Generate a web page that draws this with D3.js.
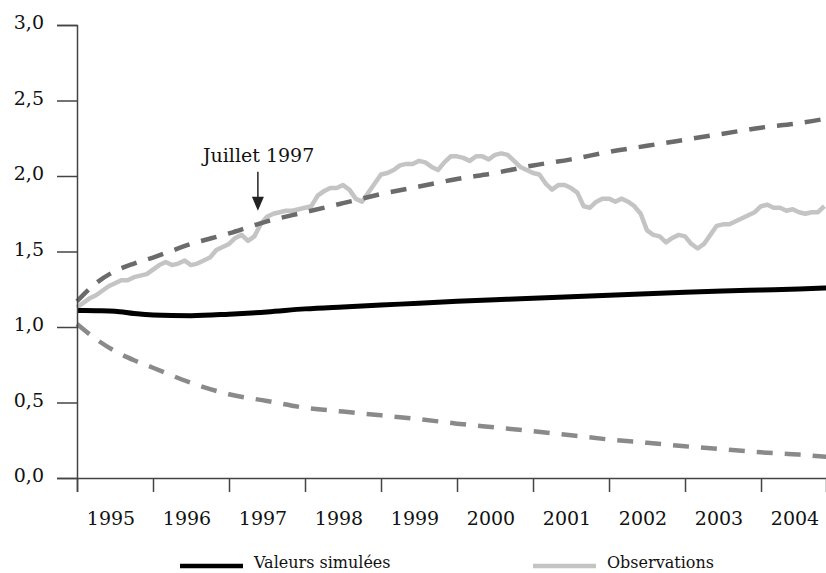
<!DOCTYPE html>
<html>
<head>
<meta charset="utf-8">
<script src="https://cdn.jsdelivr.net/npm/d3@7"></script>
<style>
  body { margin: 0; background: #fff; }
  svg text { fill: #111; }
</style>
</head>
<body>
<div id="chart"></div>
<script>
// tick labels
var years = [1995, 1996, 1997, 1998, 1999, 2000, 2001, 2002, 2003, 2004];
var yTicks = [0, 0.5, 1, 1.5, 2, 2.5, 3];

// observations, monthly from january 1995
var obsStart = 1995;
var observations = [
  1.13, 1.16, 1.19, 1.21, 1.24, 1.27, 1.29, 1.31, 1.31, 1.33, 1.34, 1.35,
  1.38, 1.41, 1.43, 1.41, 1.42, 1.44, 1.41, 1.42, 1.44, 1.46, 1.51, 1.53,
  1.55, 1.59, 1.61, 1.57, 1.60, 1.68, 1.73, 1.75, 1.76, 1.77, 1.77, 1.78,
  1.79, 1.80, 1.87, 1.90, 1.92, 1.92, 1.94, 1.91, 1.85, 1.83, 1.89, 1.95,
  2.01, 2.02, 2.04, 2.07, 2.08, 2.08, 2.10, 2.09, 2.06, 2.04, 2.09, 2.13,
  2.13, 2.12, 2.10, 2.13, 2.13, 2.11, 2.14, 2.15, 2.14, 2.10, 2.06, 2.04,
  2.02, 2.01, 1.95, 1.91, 1.94, 1.94, 1.92, 1.89, 1.80, 1.79, 1.83, 1.85,
  1.85, 1.83, 1.85, 1.83, 1.80, 1.75, 1.64, 1.61, 1.60, 1.56, 1.59, 1.61,
  1.60, 1.55, 1.52, 1.55, 1.61, 1.67, 1.68, 1.68, 1.70, 1.72, 1.74, 1.76,
  1.80, 1.81, 1.79, 1.79, 1.77, 1.78, 1.76, 1.75, 1.76, 1.76, 1.80
];

// simulated path and confidence band
var bandDates = [1995, 1995.25, 1995.5, 1995.75, 1996, 1996.5, 1997, 1997.5, 1998, 1998.5,
  1999, 1999.5, 2000, 2000.5, 2001, 2001.5, 2002, 2002.5, 2003, 2003.5, 2004, 2004.5, 2004.86];
var upperBand = [1.17, 1.29, 1.37, 1.42, 1.46, 1.55, 1.62, 1.70, 1.76, 1.82,
  1.88, 1.93, 1.98, 2.02, 2.07, 2.11, 2.16, 2.20, 2.24, 2.28, 2.32, 2.35, 2.38];
var lowerBand = [1.02, 0.92, 0.84, 0.78, 0.73, 0.63, 0.555, 0.51, 0.465, 0.44,
  0.415, 0.39, 0.36, 0.335, 0.31, 0.283, 0.255, 0.233, 0.21, 0.19, 0.17, 0.155, 0.14];
var simulated = [1.11, 1.108, 1.105, 1.09, 1.08, 1.075, 1.085, 1.10, 1.12, 1.133,
  1.145, 1.158, 1.17, 1.18, 1.19, 1.20, 1.21, 1.22, 1.23, 1.238, 1.245, 1.252, 1.258];

var annotation = { label: "Juillet 1997", date: 1997.38, value: 1.77 };

var serif = "'DejaVu Serif', 'Liberation Serif', serif";

var svgWidth = 826;
var svgHeight = 573;
var margin = { top: 25, right: 0, bottom: 95, left: 77 };

var svg = d3.select("#chart")
  .append("svg")
  .attr("width", svgWidth)
  .attr("height", svgHeight);

var x = d3.scaleLinear()
  .domain([1995, 2004.855])
  .range([margin.left, svgWidth - margin.right]);

var y = d3.scaleLinear()
  .domain([0, 3])
  .range([svgHeight - margin.bottom, margin.top]);

var obsData = observations.map(function(v, i) {
  return { t: obsStart + i / 12, v: v };
});
function bandSeries(vals) {
  return bandDates.map(function(t, i) { return { t: t, v: vals[i] }; });
}

var lineStraight = d3.line()
  .x(function(d) { return x(d.t); })
  .y(function(d) { return y(d.v); });
var lineSmooth = d3.line()
  .curve(d3.curveMonotoneX)
  .x(function(d) { return x(d.t); })
  .y(function(d) { return y(d.v); });

// series
svg.append("path")
  .datum(obsData)
  .attr("d", lineStraight)
  .attr("fill", "none")
  .attr("stroke", "#c4c4c4")
  .attr("stroke-width", 4.5)
  .attr("stroke-linejoin", "round");

svg.append("path")
  .datum(bandSeries(upperBand))
  .attr("d", lineSmooth)
  .attr("fill", "none")
  .attr("stroke", "#6b6b6b")
  .attr("stroke-width", 4.5)
  .attr("stroke-dasharray", "16,12");

svg.append("path")
  .datum(bandSeries(lowerBand))
  .attr("d", lineSmooth)
  .attr("fill", "none")
  .attr("stroke", "#8a8a8a")
  .attr("stroke-width", 4.5)
  .attr("stroke-dasharray", "16,12");

svg.append("path")
  .datum(bandSeries(simulated))
  .attr("d", lineSmooth)
  .attr("fill", "none")
  .attr("stroke", "#000")
  .attr("stroke-width", 5);

// y axis
var yAxis = svg.append("g")
  .attr("transform", "translate(" + margin.left + ",0)")
  .call(d3.axisLeft(y).tickValues(yTicks).tickSize(20).tickPadding(13)
    .tickFormat(function(d) { return d3.format(".1f")(d).replace(".", ","); }));
yAxis.attr("font-family", serif);
yAxis.select(".domain").attr("stroke", "#444").attr("stroke-width", 1.5);
yAxis.selectAll(".tick line").attr("stroke", "#444").attr("stroke-width", 1.5);
yAxis.selectAll(".tick text")
  .attr("font-size", 19)
  .attr("dy", "0.2em")
  .attr("fill", "#111");

// x axis, ticks at year boundaries, labels centred in each year
var xAxis = svg.append("g")
  .attr("transform", "translate(0," + y(0) + ")")
  .call(d3.axisBottom(x).tickValues(years).tickSize(14).tickFormat(""));
xAxis.select(".domain").attr("stroke", "#444").attr("stroke-width", 1.5);
xAxis.selectAll(".tick line").attr("stroke", "#444").attr("stroke-width", 1.5);

svg.append("g")
  .attr("font-family", serif)
  .selectAll("text")
  .data(years)
  .enter()
  .append("text")
  .attr("x", function(d) { return x(d + 0.5) - 4; })
  .attr("y", y(0) + 47)
  .attr("text-anchor", "middle")
  .attr("font-size", 19)
  .text(function(d) { return d; });

// annotation arrow
var ax = x(annotation.date);
var tipY = y(annotation.value);
svg.append("line")
  .attr("x1", ax).attr("x2", ax)
  .attr("y1", tipY - 39).attr("y2", tipY - 10)
  .attr("stroke", "#222")
  .attr("stroke-width", 1.5);
svg.append("path")
  .attr("d", "M" + (ax - 6) + "," + (tipY - 14) + "L" + (ax + 6) + "," + (tipY - 14) + "L" + ax + "," + tipY + "Z")
  .attr("fill", "#222");
svg.append("text")
  .attr("x", ax - 55)
  .attr("y", tipY - 49)
  .attr("font-family", serif)
  .attr("font-size", 19)
  .text(annotation.label);

// legend
var legendItems = [
  { label: "Valeurs simulées", color: "#000", x: 180 },
  { label: "Observations", color: "#c4c4c4", x: 533 }
];
var legend = svg.append("g")
  .attr("font-family", serif)
  .selectAll("g")
  .data(legendItems)
  .enter()
  .append("g")
  .attr("transform", function(d) { return "translate(" + d.x + ",566)"; });
legend.append("line")
  .attr("x1", 0).attr("x2", 63)
  .attr("stroke", function(d) { return d.color; })
  .attr("stroke-width", 4.5);
legend.append("text")
  .attr("x", 74)
  .attr("y", 2)
  .attr("font-size", 16)
  .text(function(d) { return d.label; });
</script>
</body>
</html>
